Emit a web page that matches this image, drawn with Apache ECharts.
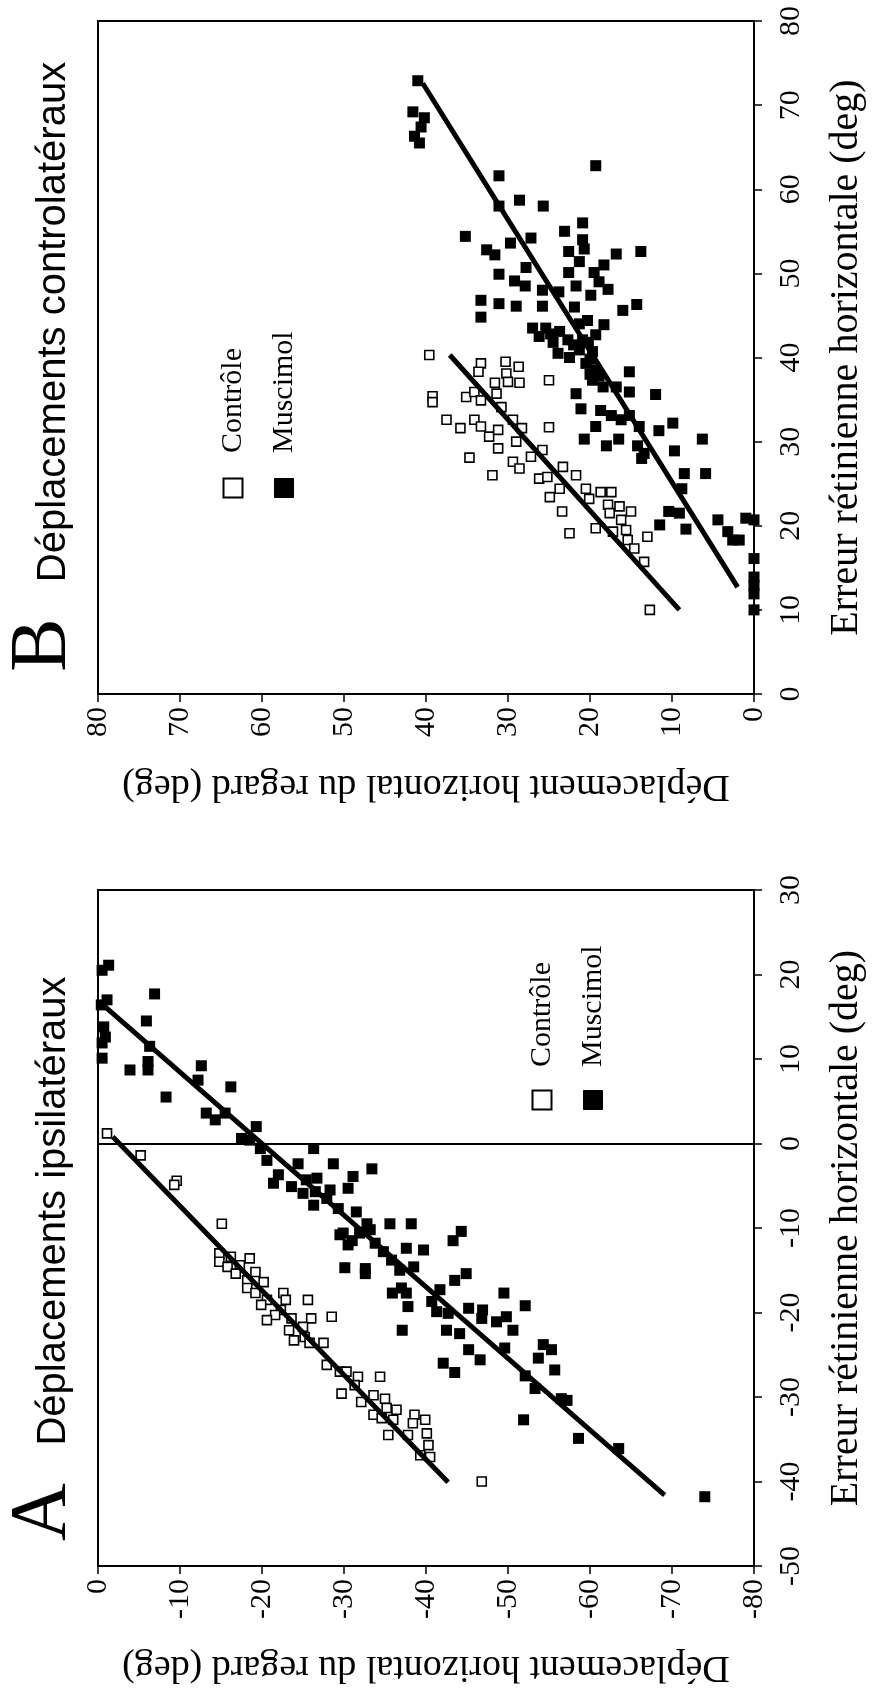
<!DOCTYPE html>
<html><head><meta charset="utf-8">
<script src="https://cdn.jsdelivr.net/npm/echarts@6/dist/echarts.min.js"></script>
<style>html,body{margin:0;padding:0;background:#fff}#c{width:874px;height:1690px}</style>
</head><body><div id="c"></div>
<script>
// ---- texts ----
const depTitle = 'Déplacement horizontal du regard (deg)';
const errTitle = 'Erreur rétinienne horizontale (deg)';
const titleA = 'Déplacements ipsilatéraux';
const titleB = 'Déplacements controlatéraux';
const legendNames = ['Contrôle', 'Muscimol'];

// ---- panel B (contralateral): [déplacement, erreur] ----
const B_controle = [[39.6,40.3],[33.3,39.3],[30.3,39.5],[28.7,38.9],[33.6,38.3],[30.2,38.1],[31.6,37.0],[30.0,37.1],[28.6,37.0],[25.0,37.3],
[39.2,35.4],[39.2,34.7],[35.1,35.3],[34.1,35.9],[31.4,35.7],[33.3,34.9],[30.8,34.1],[37.5,32.6],[35.8,31.6],[34.1,32.6],
[33.3,31.8],[32.3,30.6],[31.2,31.4],[29.4,32.6],[28.3,31.6],[25.0,31.7],[34.7,28.1],[31.2,29.2],[29.0,30.0],[29.4,27.6],
[28.6,26.8],[31.9,26.0],[27.2,28.2],[25.8,29.0],[26.2,25.6],[25.2,25.8],[23.3,27.0],[21.7,26.0],[24.9,23.4],[23.4,21.7],
[23.7,24.4],[20.5,24.4],[18.7,24.0],[17.4,24.0],[22.5,19.1],[20.1,23.2],[19.3,19.7],[17.8,22.5],[16.4,22.3],[15.0,21.7],
[17.6,21.5],[16.2,20.7],[17.2,19.3],[15.6,19.5],[15.4,18.3],[13.0,18.7],[14.6,17.3],[13.4,15.7],[12.7,10.0]];
const B_muscimol = [[41.0,72.9],[41.6,69.2],[40.2,68.5],[40.6,67.4],[41.4,66.3],[40.8,65.5],[19.3,62.8],[31.1,61.6],[28.6,58.7],[25.7,58.0],
[31.1,58.0],[20.9,56.0],[23.1,55.0],[35.2,54.4],[20.9,54.0],[27.2,54.2],[29.7,53.6],[32.6,52.8],[22.6,52.6],[20.7,52.9],
[16.8,52.3],[13.8,52.6],[31.6,52.2],[27.8,50.7],[21.3,51.4],[18.3,51.0],[31.1,49.9],[22.6,50.1],[19.5,50.1],[29.2,49.1],
[27.9,48.5],[25.8,48.0],[21.7,48.5],[18.9,49.0],[17.8,48.1],[23.8,47.8],[19.9,47.4],[33.3,46.8],[31.1,46.4],[29.0,46.1],
[25.8,46.1],[21.9,46.0],[16.0,45.6],[14.3,46.3],[33.3,44.8],[27.0,43.5],[25.4,43.5],[26.2,42.5],[23.7,43.1],[21.3,44.0],
[20.3,44.4],[18.3,43.9],[22.7,42.1],[20.9,42.1],[19.3,42.7],[23.9,40.5],[21.3,40.9],[19.7,40.7],[22.5,40.0],[20.0,39.8],
[24.8,42.8],[22.0,41.5],[20.2,41.8],[24.5,41.8],[20.5,39.3],[19.3,38.5],[15.2,38.3],[19.7,37.3],[20.0,38.0],[18.9,37.8],
[18.4,36.5],[16.8,36.5],[15.2,35.9],[12.0,35.6],[21.7,35.7],[21.1,33.9],[18.7,33.7],[17.4,33.1],[16.2,32.6],[15.2,33.1],
[19.3,31.8],[14.0,31.8],[11.6,31.3],[9.9,32.2],[20.7,30.3],[18.0,29.5],[16.5,30.3],[14.2,29.5],[13.4,28.6],[13.7,28.0],
[9.7,28.9],[6.3,30.3],[8.5,26.2],[5.9,26.2],[8.8,24.4],[10.4,21.7],[9.1,21.5],[11.5,20.1],[8.3,19.6],[4.4,20.7],
[3.2,19.3],[2.6,18.3],[1.8,18.3],[1.0,20.9],[0.0,20.7],[0.0,16.1],[0.0,13.9],[0.0,12.9],[0.0,11.9],[0.0,10.0]];
const B_fitControle = [[37.1,40.3],[9.1,10.0]];
const B_fitMuscimol = [[40.4,72.6],[2.0,12.7]];

// ---- panel A (ipsilateral): [déplacement, erreur] ----
const A_controle = [[-1.1,1.2],[-5.2,-1.4],[-9.6,-4.4],[-9.3,-4.9],[-15.1,-9.5],[-14.8,-13.0],[-16.2,-13.4],[-18.5,-13.6],[-17.3,-14.4],
[-14.8,-14.0],[-15.8,-14.6],[-16.8,-15.4],[-18.2,-16.2],[-19.2,-15.2],[-20.2,-16.4],[-18.2,-17.1],[-19.2,-17.7],[-20.6,-18.5],[-19.9,-19.1],
[-22.6,-17.7],[-22.9,-18.5],[-22.3,-19.7],[-21.6,-20.3],[-20.6,-20.9],[-23.6,-20.7],[-23.3,-22.1],[-23.9,-23.3],
[-25.6,-18.5],[-26.0,-20.7],[-28.5,-20.5],[-25.0,-21.7],[-25.2,-22.9],[-27.5,-23.6],[-25.8,-23.6],[-27.9,-26.2],[-29.5,-27.0],[-30.3,-27.0],
[-31.7,-27.6],[-34.4,-27.6],[-29.7,-29.6],[-31.3,-28.6],[-32.1,-30.6],[-33.6,-29.8],[-35.0,-30.2],[-35.2,-31.3],[-36.4,-31.5],[-33.6,-32.1],
[-34.6,-32.5],[-36.0,-32.7],[-35.4,-34.5],[-37.8,-34.5],[-38.6,-32.1],[-39.9,-32.7],[-38.4,-33.1],[-40.1,-34.3],[-40.3,-35.7],[-40.5,-37.1],
[-39.3,-36.9],[-46.8,-40.0]];
const A_muscimol = [[-1.3,21.1],[-0.5,20.5],[-6.9,17.7],[-1.1,17.0],[-0.4,16.4],[-5.9,14.5],[-0.7,13.8],[-0.9,12.6],[-0.5,11.9],[-6.3,11.5],
[-6.1,9.7],[-6.1,8.7],[-3.9,8.7],[-0.5,10.1],[-12.6,9.2],[-12.2,7.5],[-16.2,6.7],[-8.3,5.5],[-13.2,3.6],[-14.3,2.8],
[-15.5,3.6],[-19.3,2.0],[-17.5,0.6],[-18.5,0.4],[-26.3,-0.6],[-19.8,-0.6],[-20.6,-2.0],[-24.4,-2.4],[-28.7,-2.4],[-33.4,-3.0],
[-22.0,-3.7],[-21.4,-4.7],[-23.6,-5.1],[-25.4,-4.3],[-26.7,-4.1],[-25.0,-5.9],[-26.5,-5.7],[-28.3,-5.5],[-30.5,-5.3],[-31.1,-3.9],
[-26.3,-7.3],[-27.9,-6.5],[-29.3,-7.7],[-31.5,-8.1],[-32.8,-9.5],[-35.6,-9.5],[-38.2,-9.5],[-44.3,-10.4],[-29.9,-10.6],[-31.9,-10.6],
[-30.5,-12.0],[-33.2,-10.2],[-34.8,-12.8],[-29.5,-10.8],[-31.0,-11.5],[-33.8,-11.8],
[-30.1,-14.7],[-32.6,-14.8],[-32.6,-15.4],[-39.7,-12.6],[-43.3,-11.5],[-35.8,-13.8],[-37.6,-12.4],[-36.8,-15.0],[-38.5,-14.6],[-37.0,-17.1],
[-35.9,-17.7],[-37.6,-17.7],[-37.8,-19.3],[-37.1,-22.1],[-40.7,-18.7],[-41.7,-17.3],[-43.5,-16.2],[-44.9,-15.4],[-41.3,-19.9],[-42.7,-20.1],
[-42.5,-22.1],[-44.1,-22.5],[-45.2,-19.5],[-46.9,-19.7],[-46.8,-20.7],[-45.2,-24.4],[-46.6,-25.6],[-42.1,-26.0],[-43.5,-27.1],[-49.5,-17.7],
[-52.1,-19.2],[-48.6,-21.1],[-49.8,-20.5],[-50.6,-22.1],[-49.6,-24.2],[-54.3,-23.8],[-55.3,-24.4],[-53.7,-25.4],[-55.7,-26.8],[-52.1,-27.5],
[-53.3,-29.0],[-56.5,-30.2],[-57.2,-30.4],[-51.9,-32.7],[-58.6,-34.9],[-63.5,-36.1],[-74.0,-41.8]];
const A_fitControle = [[-1.8,0.8],[-42.7,-40.1]];
const A_fitMuscimol = [[-0.5,16.5],[-69.1,-41.6]];
const A_zeroLine = 0;

// ---- rendering ----
const serif = 'Liberation Serif';
const sans = 'Liberation Sans';
const chart = echarts.init(document.getElementById('c'), null, {renderer: 'canvas'});

function xAx(gi, min, max, gap) {
  return {
    gridIndex: gi, type: 'value', min: min, max: max, interval: 10, inverse: true, position: 'bottom',
    axisLine: {show: true, onZero: false, lineStyle: {color: '#000', width: 2}},
    axisTick: {show: true, inside: false, length: 8, lineStyle: {color: '#000', width: 1.5}},
    splitLine: {show: false},
    axisLabel: {rotate: 90, margin: 13, fontFamily: serif, fontSize: 30, color: '#000', showMinLabel: true, showMaxLabel: true},
    name: depTitle, nameLocation: 'middle', nameRotate: 180, nameGap: gap,
    nameTextStyle: {fontFamily: serif, fontSize: 38, color: '#000'}
  };
}
function yAx(gi, min, max) {
  return {
    gridIndex: gi, type: 'value', min: min, max: max, interval: 10, position: 'right',
    axisLine: {show: true, onZero: false, lineStyle: {color: '#000', width: 2}},
    axisTick: {show: true, inside: false, length: 8, lineStyle: {color: '#000', width: 1.5}},
    splitLine: {show: false},
    axisLabel: {rotate: 90, margin: 22, fontFamily: serif, fontSize: 30, color: '#000', showMinLabel: true, showMaxLabel: true},
    name: errTitle, nameLocation: 'middle', nameRotate: 90, nameGap: 72,
    nameTextStyle: {fontFamily: serif, fontSize: 40, color: '#000'}
  };
}
function scat(data, xi, open) {
  return {
    type: 'scatter', xAxisIndex: xi, yAxisIndex: xi, data: data, symbol: 'rect',
    symbolSize: open ? 9 : 11,
    itemStyle: open ? {color: '#fff', borderColor: '#000', borderWidth: 1.6, opacity: 1} : {color: '#000', opacity: 1},
    emphasis: {disabled: true}, z: 3
  };
}
function fit(data, xi, extra) {
  return Object.assign({
    type: 'line', xAxisIndex: xi, yAxisIndex: xi, data: data, symbol: 'none',
    lineStyle: {color: '#000', width: 5}, emphasis: {disabled: true}, z: 4
  }, extra || {});
}
function legendGroup(cx, textBottom, squareCy) {
  const s = 19;
  return [
    {type: 'rect', shape: {x: cx - s / 2, y: squareCy - s / 2, width: s, height: s},
     style: {fill: '#fff', stroke: '#000', lineWidth: 2}},
    {type: 'text', x: cx, y: textBottom, rotation: Math.PI / 2,
     style: {text: legendNames[0], fontFamily: serif, fontSize: 30, fill: '#000',
             align: 'left', verticalAlign: 'middle', textAlign: 'left', textVerticalAlign: 'middle'}},
    {type: 'rect', shape: {x: cx + 51 - s / 2, y: squareCy - s / 2, width: s, height: s},
     style: {fill: '#000', stroke: '#000', lineWidth: 1}},
    {type: 'text', x: cx + 51, y: textBottom, rotation: Math.PI / 2,
     style: {text: legendNames[1], fontFamily: serif, fontSize: 30, fill: '#000',
             align: 'left', verticalAlign: 'middle', textAlign: 'left', textVerticalAlign: 'middle'}}
  ];
}
function label(txt, x, y, font, size) {
  return {type: 'text', x: x, y: y, rotation: Math.PI / 2,
    style: {text: txt, fontFamily: font, fontSize: size, fill: '#000',
            align: 'center', verticalAlign: 'middle', textAlign: 'center', textVerticalAlign: 'middle'}};
}

const option = {
  animation: false,
  backgroundColor: '#fff',
  grid: [
    {left: 98, top: 21, width: 657, height: 673, show: true, borderColor: '#000', borderWidth: 2, backgroundColor: 'transparent'},
    {left: 98, top: 890, width: 656, height: 676, show: true, borderColor: '#000', borderWidth: 2, backgroundColor: 'transparent'}
  ],
  xAxis: [xAx(0, 0, 80, 73), xAx(1, -80, 0, 82)],
  yAxis: [yAx(0, 0, 80), yAx(1, -50, 30)],
  series: [
    scat(B_controle, 0, true),
    scat(B_muscimol, 0, false),
    fit(B_fitControle, 0),
    fit(B_fitMuscimol, 0),
    scat(A_controle, 1, true),
    scat(A_muscimol, 1, false),
    fit(A_fitControle, 1),
    fit(A_fitMuscimol, 1, {
      markLine: {silent: true, symbol: ['none', 'none'], label: {show: false},
        lineStyle: {color: '#000', width: 2, type: 'solid'}, emphasis: {disabled: true},
        data: [{yAxis: A_zeroLine}]}
    })
  ],
  graphic: [
    label('B', 44, 645, serif, 80),
    label(titleB, 54, 322, sans, 40),
    label('A', 44, 1512, serif, 80),
    label(titleA, 54, 1211, sans, 40)
  ].concat(legendGroup(233, 453, 488)).concat(legendGroup(542, 1067, 1100))
};
chart.setOption(option);
</script>
</body></html>
